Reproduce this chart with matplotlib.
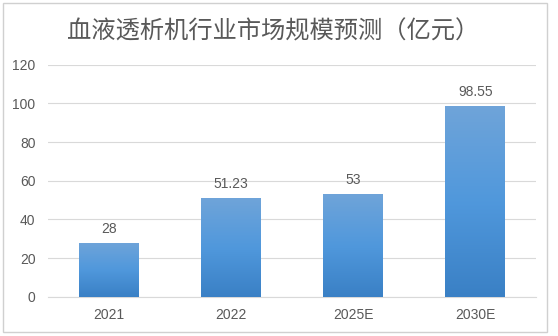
"""Bar chart of hemodialysis machine market size forecast."""

import matplotlib.pyplot as plt
import numpy as np
from matplotlib.colors import LinearSegmentedColormap
from matplotlib.patches import Rectangle

plt.rcParams["font.family"] = ["Noto Sans CJK SC", "DejaVu Sans"]

TITLE = "血液透析机行业市场规模预测（亿元）"
years = ["2021", "2022", "2025E", "2030E"]
market_size = [28, 51.23, 53, 98.55]
value_labels = ["28", "51.23", "53", "98.55"]

TEXT_COLOR = "#595959"
GRID_COLOR = "#d9d9d9"
bar_cmap = LinearSegmentedColormap.from_list("bar_grad", ["#3a80c5", "#5098dc", "#6fa4d9"])


def main() -> None:
    fig = plt.figure(figsize=(5.58, 3.36), dpi=100)
    fig.patches.append(Rectangle((0.005, 0.012), 0.975, 0.978, transform=fig.transFigure,
                                 fill=False, edgecolor="#d0d0d0", linewidth=1.0))
    ax = fig.add_axes([0.086, 0.117, 0.875, 0.690])

    x = np.arange(len(years))
    bars = ax.bar(x, market_size, width=0.49, color="none", zorder=3)
    for bar in bars:
        x0, y0 = bar.get_x(), bar.get_y()
        w, h = bar.get_width(), bar.get_height()
        grad = np.linspace(0, 1, 256).reshape(-1, 1)
        img = ax.imshow(grad, cmap=bar_cmap, origin="lower", aspect="auto",
                        extent=(x0, x0 + w, y0, y0 + h), zorder=3)
        img.set_clip_path(bar)

    for xi, val, lab in zip(x, market_size, value_labels):
        ax.annotate(lab, (xi, val), xytext=(0, 5), textcoords="offset points",
                    ha="center", va="bottom", fontsize=10, color=TEXT_COLOR,
                    family=["Liberation Sans", "DejaVu Sans"])

    ax.set_xlim(-0.5, len(years) - 0.5)
    ax.set_ylim(0, 120)
    ax.set_yticks(range(0, 121, 20))
    ax.set_xticks(x)
    ax.set_xticklabels(years)
    for lab in ax.get_xticklabels() + ax.get_yticklabels():
        lab.set_family(["Liberation Sans", "DejaVu Sans"])
    ax.tick_params(length=0, labelsize=10, colors=TEXT_COLOR, pad=8)
    ax.tick_params(axis="y", pad=9)
    ax.grid(axis="y", color=GRID_COLOR, linewidth=0.8, zorder=0)
    for side in ["left", "right", "top"]:
        ax.spines[side].set_visible(False)
    ax.spines["bottom"].set_color(GRID_COLOR)

    fig.text(0.49, 0.905, TITLE, ha="center", va="center", fontsize=17.5, color=TEXT_COLOR)

    fig.savefig("out.png", dpi=100)
    plt.close(fig)


if __name__ == "__main__":
    main()
